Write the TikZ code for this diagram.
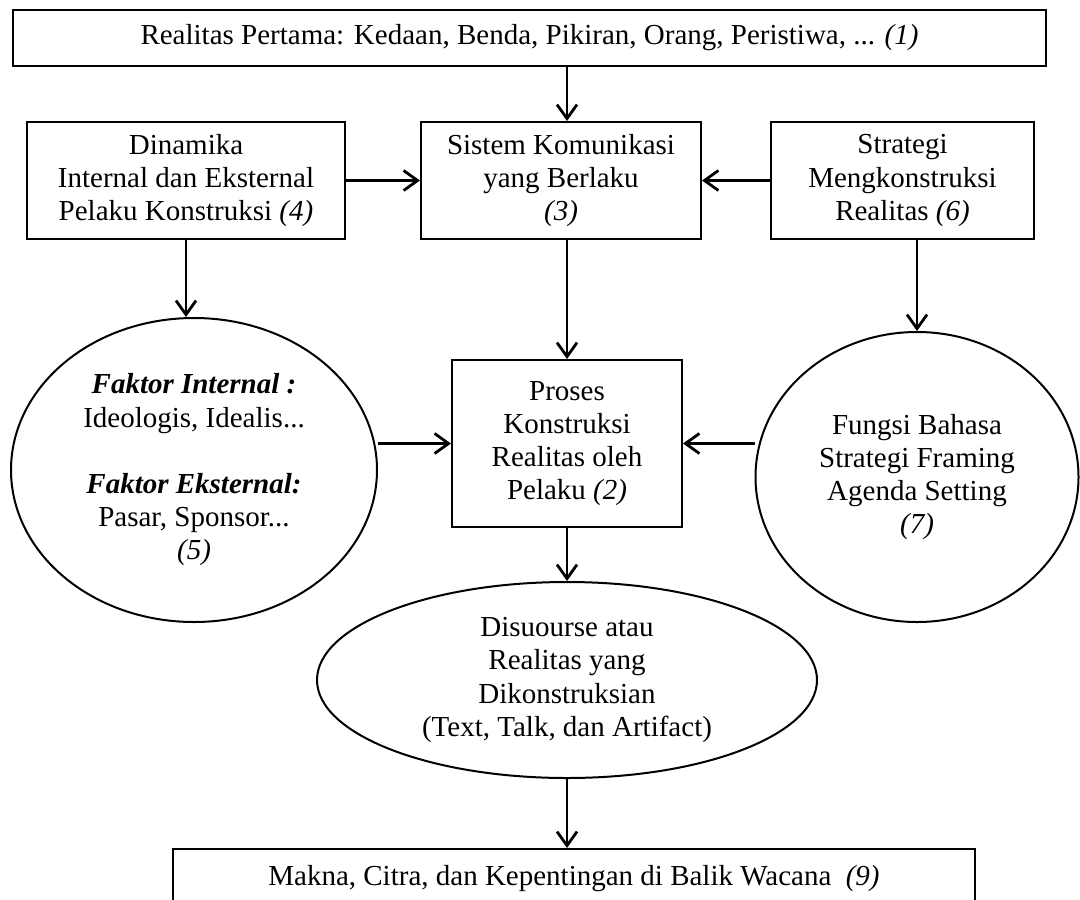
\documentclass[tikz,border=0pt]{standalone}
\usepackage{fontspec}
\setmainfont{Liberation Serif}
\usepackage{tikz}
\usetikzlibrary{shapes.geometric}
\usetikzlibrary{arrows.meta}

\begin{document}
\begin{tikzpicture}[x=0.5pt,y=-0.5pt,
  box/.style={draw,line width=1pt,align=center,inner sep=0pt,font=\fontsize{14.5}{16.6}\selectfont},
  oval/.style={ellipse,draw,line width=1pt,align=center,inner sep=0pt,font=\fontsize{14.5}{16.6}\selectfont},
  arr/.style={line width=1.4pt,-{Straight Barb[length=7pt,width=10pt,line width=1.4pt]}}]
\useasboundingbox (0,0) rectangle (1080,899);
\node[box,minimum width=516.5pt,minimum height=28pt] (top) at (529.5,38)
  {Realitas Pertama: Kedaan, Benda, Pikiran, Orang, Peristiwa, ... \textit{(1)}};
\node[box,minimum width=159pt,minimum height=58.5pt] (dinamika) at (186,180.5)
  {Dinamika\\Internal dan Eksternal\\Pelaku Konstruksi \textit{(4)}};
\node[box,minimum width=140pt,minimum height=58.5pt] (sistem) at (561,180.5)
  {Sistem Komunikasi\\yang Berlaku\\\textit{(3)}};
\node[box,minimum width=131.5pt,minimum height=58.5pt] (strategi) at (902.5,180.5)
  {Strategi\\Mengkonstruksi\\Realitas \textit{(6)}};
\node[box,minimum width=115pt,minimum height=83.5pt] (proses) at (567,443.5)
  {Proses\\Konstruksi\\Realitas oleh\\Pelaku \textit{(2)}};
\node[oval,minimum width=183pt,minimum height=152pt] (faktor) at (194,470)
  {\textbf{\textit{Faktor Internal :}}\\Ideologis, Idealis...\\[16.6pt]
   \textbf{\textit{Faktor Eksternal:}}\\Pasar, Sponsor...\\\textit{(5)}};
\node[oval,minimum width=161.5pt,minimum height=145pt] (fungsi) at (917,477)
  {Fungsi Bahasa\\Strategi Framing\\Agenda Setting\\\textit{(7)}};
\node[oval,minimum width=250pt,minimum height=98pt] (wacana) at (567,680)
  {Disuourse atau\\Realitas yang\\Dikonstruksian\\(Text, Talk, dan Artifact)};
\node[box,minimum width=401pt,inner ysep=4pt,text height=14pt,text depth=30pt,anchor=base]
  (makna) at (574,885)
  {Makna, Citra, dan Kepentingan di Balik Wacana \ \textit{(9)}};
% arrows
\draw[arr] (top.south -| proses.north) -- (proses.north |- sistem.north);
\draw[arr] (dinamika.east) -- (sistem.west);
\draw[arr] (strategi.west) -- (sistem.east);
\draw[arr] (proses.north |- sistem.south) -- (proses.north);
\draw[arr] (dinamika.south) -- (dinamika.south |- faktor.north);
\draw[arr] (fungsi.north |- strategi.south) -- (fungsi.north);
\draw[arr] (faktor.east |- proses.west) -- (proses.west);
\draw[arr] (fungsi.west |- proses.east) -- (proses.east);
\draw[arr] (proses.south) -- (wacana.north);
\draw[arr] (wacana.south) -- (proses.south |- makna.north);
\end{tikzpicture}
\end{document}
